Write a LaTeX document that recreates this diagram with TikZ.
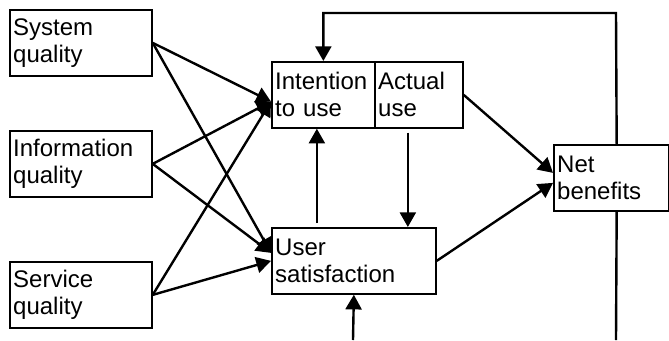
\documentclass[tikz,border=0pt]{standalone}
\usepackage{fontspec}
\setmainfont{Liberation Sans}
\usetikzlibrary{arrows.meta}
\begin{document}
\begin{tikzpicture}[x=0.75pt,y=-0.75pt,font=\fontsize{18}{20.25}\selectfont,box/.style={draw=black,line width=1.3pt,anchor=north west,minimum height=49.5pt,inner xsep=2.5pt,inner ysep=0pt,align=left},arr/.style={line width=1.8pt,-{Triangle[length=11pt,width=12pt]}},line/.style={line width=1.8pt}]
\def\wq{101.5pt};
\def\dx{-27.75pt};

\path[use as bounding box,fill=white] (0,0) rectangle (669,340);
\clip (0,0) rectangle (669,340);

\node[box,text width=\wq] (sysq) at (9,9) {System\\quality};
\node[box,text width=\wq] (infq) at (9,130) {Information\\quality};
\node[box,text width=\wq] (serq) at (9,261) {Service\\quality};

\node[box,text width=72.25pt] (int) at (271,61) {Intention\\to use};
\node[box,text width=61pt] (act) at (374,61) {Actual\\use};
\node[box,text width=118pt] (us) at (271,227) {User\\satisfaction};
\node[box,text width=81.25pt] (nb) at (553,144) {Net\\benefits};

\coordinate (fb) at (616,13);
\coordinate (nbout) at (616,340);
\coordinate (usin) at (353,340);

\draw[arr] (sysq.east) -- ([yshift=-5pt]int.west);
\draw[arr] (infq.east) -- ([yshift=-5pt]int.west);
\draw[arr] (serq.east) -- ([yshift=-5pt]int.west);
\draw[arr] (sysq.east) -- ([yshift=6pt]us.west);
\draw[arr] (infq.east) -- ([yshift=6pt]us.west);
\draw[arr] (serq.east) -- (us.west);

\draw[arr] ([xshift=\dx,yshift=3pt]us.north) -- ([xshift=\dx]us.north |- int.south);
\draw[arr] ([xshift=-8.25pt,yshift=-3pt]act.south) -- ([xshift=-8.25pt]act.south |- us.north);
\draw[arr] (act.east) -- ([yshift=3.75pt]nb.west);
\draw[arr] (us.east) -- ([yshift=-3.75pt]nb.west);

\draw[arr] ([xshift=4pt]nb.north) -- (fb) -| (int.north);
\draw[line] ([xshift=4pt]nb.south) -- (nbout);
\draw[arr] (usin) -- (us.south);
\end{tikzpicture}
\end{document}
